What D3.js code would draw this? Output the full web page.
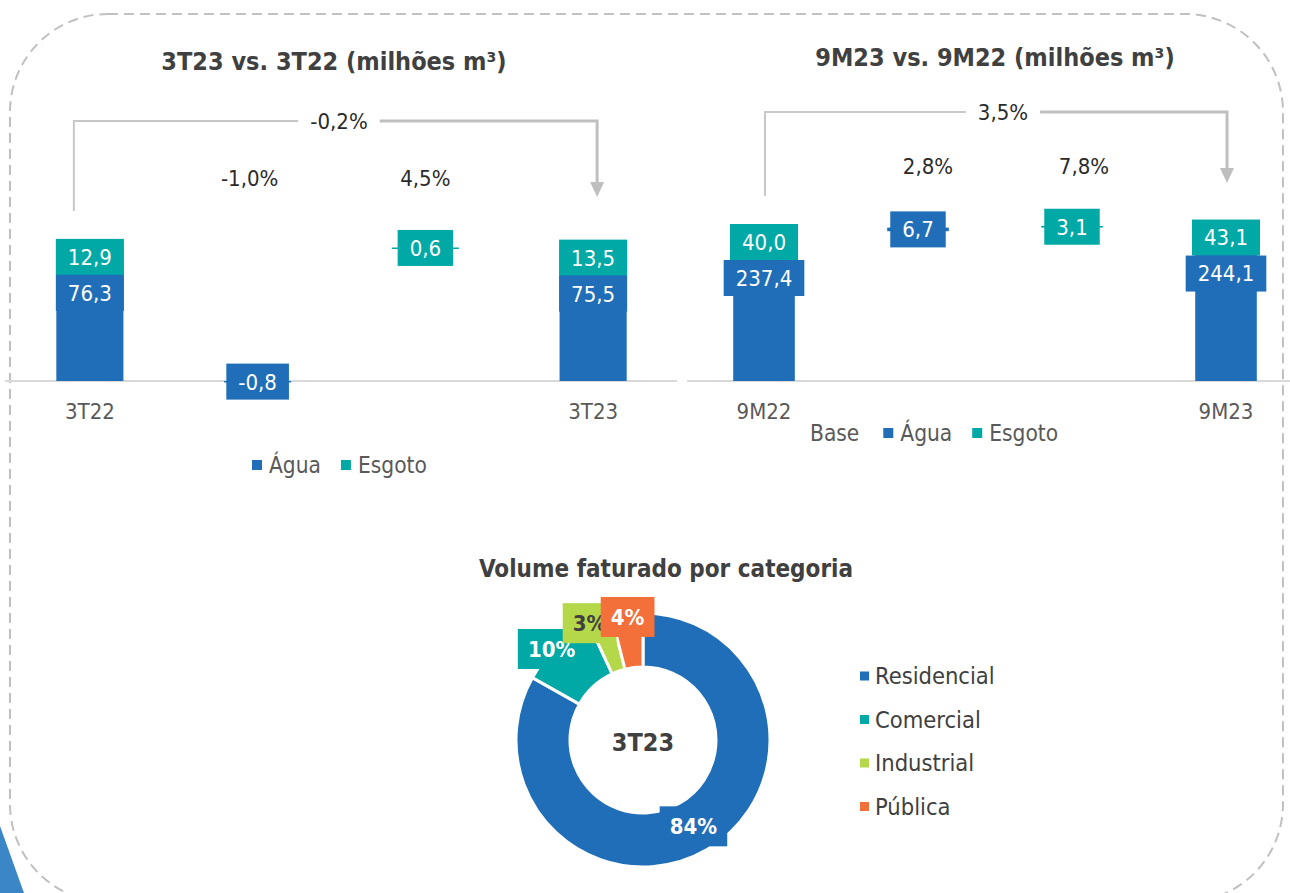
<!DOCTYPE html>
<html lang="pt-BR">
<head>
<meta charset="UTF-8">
<title>Volume faturado</title>
<script src="https://d3js.org/d3.v7.min.js"></script>
<style>
  body { margin: 0; background: #fff; }
  svg { display: block; }
  text { font-family: "DejaVu Sans Condensed", "DejaVu Sans", sans-serif; font-stretch: condensed; }
  .title { font-weight: bold; font-size: 25px; fill: #404040; }
  .tick text { font-size: 22px; fill: #595959; }
  .lbl { font-size: 22px; fill: #fff; }
  .pct { font-size: 22px; fill: #2b2b2b; }
  .legend text { font-size: 22.5px; fill: #595959; }
</style>
</head>
<body>
<script>
// 3T23 vs. 3T22
const qCats = ["3T22", "", "", "3T23"];
const qBase = [0, 88.4, 88.4, 0];
const qAgua = [76.3, -0.8, 0, 75.5];
const qEsgoto = [12.9, 0, 0.6, 13.5];
const qPct = ["", "-1,0%", "4,5%", ""];
const qTotalPct = "-0,2%";

// 9M23 vs. 9M22
const ytdCats = ["9M22", "", "", "9M23"];
const ytdBase = [0, 277.4, 284.1, 0];
const ytdAgua = [237.4, 6.7, 0, 244.1];
const ytdEsgoto = [40.0, 0, 3.1, 43.1];
const ytdPct = ["", "2,8%", "7,8%", ""];
const ytdTotalPct = "3,5%";

// volume faturado por categoria, 3T23
const categorias = ["Residencial", "Comercial", "Industrial", "Pública"];
const participacao = [84, 10, 3, 4];

const AZUL = "#1f6eb7", VERDE_AGUA = "#00a9a6", VERDE = "#b4d84a", LARANJA = "#f3703a";
const catColor = [AZUL, VERDE_AGUA, VERDE, LARANJA];

const width = 1290, height = 893;
const svg = d3.select("body").append("svg")
    .attr("width", width)
    .attr("height", height);

// decoration
svg.append("path")
    .attr("d", "M0,826 L24,893 L0,893 Z")
    .attr("fill", "#3a86c6");

svg.append("rect")
    .attr("x", 10).attr("y", 14)
    .attr("width", 1273).attr("height", 888)
    .attr("rx", 98)
    .attr("fill", "none")
    .attr("stroke", "#c0c0c0")
    .attr("stroke-width", 2)
    .attr("stroke-dasharray", "10 6");

const fmt = v => d3.format(".1f")(v).replace(".", ",").replace("\u2212", "-");

// Excel-like stacking: positives stack on the base, negatives from zero
function stackRows(base, agua, esgoto) {
    return base.map((b, i) => {
        let pos = b, neg = 0;
        const seg = v => {
            if (v >= 0) { const s = [pos, pos + v]; pos += v; return s; }
            const s = [neg, neg + v]; neg += v; return s;
        };
        return { i, isTotal: b === 0 && agua[i] > 0, agua: [agua[i], seg(agua[i])], esgoto: [esgoto[i], seg(esgoto[i])] };
    });
}

function labelBox(g, cx, cy, txt, color) {
    const lg = g.append("g");
    const rect = lg.append("rect").attr("fill", color);
    const t = lg.append("text")
        .attr("class", "lbl")
        .attr("x", cx).attr("y", cy)
        .attr("dy", "0.36em")
        .attr("text-anchor", "middle")
        .text(txt);
    const w = t.node().getBBox().width + 24;
    rect.attr("x", cx - w / 2).attr("y", cy - 18).attr("width", w).attr("height", 36);
}

function waterfall(o) {
    const g = svg.append("g");
    const x = d3.scaleBand().domain(d3.range(o.cats.length)).range(o.xRange)
        .paddingInner(0.6).paddingOuter(0.3);
    const y = d3.scaleLinear().domain([0, o.yMax]).range([381, o.yTop]);
    const rows = stackRows(o.base, o.agua, o.esgoto);

    g.append("text").attr("class", "title")
        .attr("x", o.titleX).attr("y", o.titleY)
        .attr("text-anchor", "middle")
        .text(o.title);

    const axis = g.append("g")
        .attr("transform", `translate(0,${y(0)})`)
        .call(d3.axisBottom(x).tickSize(0).tickPadding(22).tickFormat(i => o.cats[i]));
    axis.select(".domain").attr("stroke", "#d9d9d9").attr("stroke-width", 2)
        .attr("d", `M${o.axisRange[0]},0H${o.axisRange[1]}`);

    // bars
    rows.forEach(r => {
        [["agua", AZUL], ["esgoto", VERDE_AGUA]].forEach(([k, c]) => {
            const [v, s] = r[k];
            if (v === 0) return;
            const y0 = y(Math.max(s[0], s[1])), y1 = y(Math.min(s[0], s[1]));
            g.append("rect")
                .attr("x", x(r.i)).attr("width", x.bandwidth())
                .attr("y", y0).attr("height", Math.max(1.5, y1 - y0))
                .attr("fill", c);
        });
    });

    // labels
    rows.forEach(r => {
        const cx = x(r.i) + x.bandwidth() / 2;
        const [ve, se] = r.esgoto, [va, sa] = r.agua;
        if (r.isTotal) {
            const cyE = y((se[0] + se[1]) / 2);
            labelBox(g, cx, cyE, fmt(ve), VERDE_AGUA);
            labelBox(g, cx, cyE + 36, fmt(va), AZUL);
        } else {
            if (va !== 0) labelBox(g, cx, y((sa[0] + sa[1]) / 2), fmt(va), AZUL);
            if (ve !== 0) labelBox(g, cx, y((se[0] + se[1]) / 2), fmt(ve), VERDE_AGUA);
        }
    });

    // variation labels
    o.pct.forEach((p, i) => {
        if (!p) return;
        g.append("text").attr("class", "pct")
            .attr("x", x(i) + x.bandwidth() / 2 + o.pctDx[i])
            .attr("y", o.pctY).attr("dy", "0.36em")
            .attr("text-anchor", "middle")
            .text(p);
    });

    // bracket with total variation
    const xa = x(0) + x.bandwidth() / 2 + o.bracketDx[0];
    const xb = x(o.cats.length - 1) + x.bandwidth() / 2 + o.bracketDx[1];
    const tt = g.append("text").attr("class", "pct")
        .attr("x", o.totalX).attr("y", o.bracketTop).attr("dy", "0.36em")
        .attr("text-anchor", "middle")
        .text(o.totalPct);
    const bb = tt.node().getBBox();
    g.append("path")
        .attr("d", `M${xa},${o.bracketBottom}V${o.bracketTop}H${bb.x - 12}`)
        .attr("fill", "none").attr("stroke", "#c8c8c8").attr("stroke-width", 2);
    g.append("path")
        .attr("d", `M${bb.x + bb.width + 12},${o.bracketTop}H${xb}V${o.arrowTip - 14}`)
        .attr("fill", "none").attr("stroke", "#bfbfbf").attr("stroke-width", 3);
    g.append("path")
        .attr("d", `M${xb - 7},${o.arrowTip - 15}L${xb + 7},${o.arrowTip - 15}L${xb},${o.arrowTip}Z`)
        .attr("fill", "#bfbfbf");

    // legend
    const lg = g.append("g").attr("class", "legend");
    let cx = o.legendX;
    o.legend.forEach(([name, color]) => {
        if (color) {
            lg.append("rect").attr("x", cx).attr("y", o.legendY - 5)
                .attr("width", 10).attr("height", 10).attr("fill", color);
            cx += 17;
        }
        const t = lg.append("text").attr("x", cx).attr("y", o.legendY).attr("dy", "0.36em").text(name);
        cx += t.node().getBBox().width + (color ? 20 : 24);
    });
}

waterfall({
    title: "3T23 vs. 3T22 (milhões m³)", titleX: 334, titleY: 70,
    cats: qCats, base: qBase, agua: qAgua, esgoto: qEsgoto, pct: qPct, totalPct: qTotalPct,
    xRange: [6, 677], axisRange: [5, 677], yMax: 100, yTop: 231,
    pctY: 178, pctDx: [0, -8, 0, 0],
    totalX: 339, bracketTop: 121, bracketBottom: 211, arrowTip: 197, bracketDx: [-16, 4],
    legend: [["Água", AZUL], ["Esgoto", VERDE_AGUA]], legendX: 252, legendY: 465
});

waterfall({
    title: "9M23 vs. 9M22 (milhões m³)", titleX: 995, titleY: 66,
    cats: ytdCats, base: ytdBase, agua: ytdAgua, esgoto: ytdEsgoto, pct: ytdPct, totalPct: ytdTotalPct,
    xRange: [687, 1303], axisRange: [687, 1290], yMax: 300, yTop: 219,
    pctY: 166, pctDx: [0, 10, 12, 0],
    totalX: 1003, bracketTop: 112, bracketBottom: 196, arrowTip: 183, bracketDx: [1, 1],
    legend: [["Base", null], ["Água", AZUL], ["Esgoto", VERDE_AGUA]], legendX: 810, legendY: 433
});

// donut
const cx0 = 643, cy0 = 740, rOut = 127, rIn = 73;
svg.append("text").attr("class", "title")
    .attr("x", 666).attr("y", 577)
    .attr("font-size", 24).style("font-size", "24px")
    .attr("text-anchor", "middle")
    .text("Volume faturado por categoria");

const pie = d3.pie().sort(null).value(d => d)(participacao);
const arc = d3.arc().innerRadius(rIn).outerRadius(rOut);
const dg = svg.append("g").attr("transform", `translate(${cx0},${cy0})`);
dg.selectAll("path").data(pie).join("path")
    .attr("d", arc)
    .attr("fill", (d, i) => catColor[i])
    .attr("stroke", "#fff").attr("stroke-width", 3);

dg.append("text").attr("class", "title")
    .attr("y", 2).attr("dy", "0.36em")
    .attr("text-anchor", "middle")
    .text("3T23");

// label positions: ring centre for the big slice, just outside for small ones
const labelPos = pie.map(d => {
    const r = d.value > 50 ? (rIn + rOut) / 2 : 124;
    return d3.arc().innerRadius(r).outerRadius(r).centroid(d);
});
for (let i = labelPos.length - 2; i >= 1; i--) {
    if (labelPos[i][0] > labelPos[i + 1][0] - 38) labelPos[i][0] = labelPos[i + 1][0] - 38;
}
pie.forEach((d, i) => {
    const [px, py] = labelPos[i];
    const lg = dg.append("g");
    const rect = lg.append("rect").attr("fill", catColor[i]);
    const t = lg.append("text")
        .attr("x", px).attr("y", py).attr("dy", "0.36em")
        .attr("text-anchor", "middle")
        .attr("font-size", 22).attr("font-weight", "bold")
        .attr("fill", i === 2 ? "#404040" : "#fff")
        .text(d.value + "%");
    const w = t.node().getBBox().width + 20;
    rect.attr("x", px - w / 2).attr("y", py - 20).attr("width", w).attr("height", 40);
});

const leg = svg.append("g").attr("class", "legend");
categorias.forEach((c, i) => {
    const ly = 676 + i * 43.5;
    leg.append("rect").attr("x", 860).attr("y", ly - 4.5).attr("width", 9).attr("height", 9).attr("fill", catColor[i]);
    leg.append("text").attr("x", 875).attr("y", ly).attr("dy", "0.36em")
        .style("font-size", "23.5px").style("fill", "#404040").text(c);
});
</script>
</body>
</html>
